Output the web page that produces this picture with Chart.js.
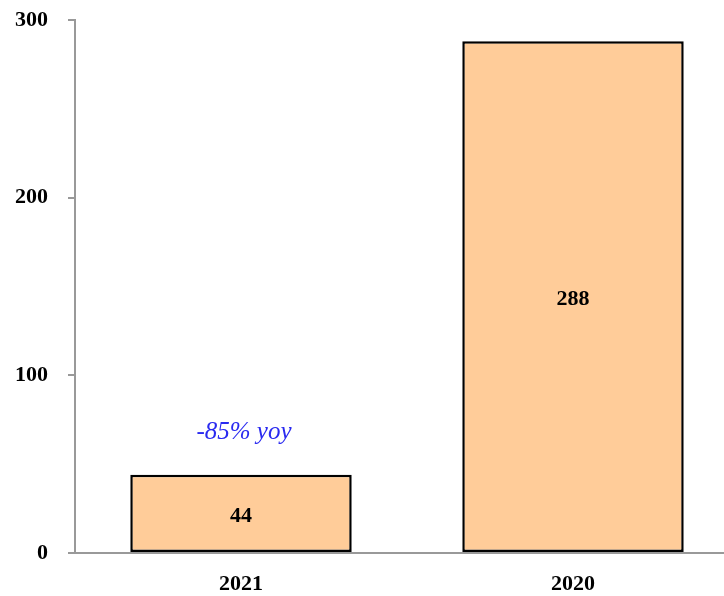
<!DOCTYPE html>
<html>
<head>
<meta charset="utf-8">
<script src="https://cdn.jsdelivr.net/npm/chart.js@4.4.0/dist/chart.umd.min.js"></script>
<style>
  html, body { margin: 0; padding: 0; background: #fff; overflow: hidden; }
  #wrap { width: 739px; height: 596px; }
</style>
</head>
<body>
<div id="wrap"><canvas id="barCanvas" width="739" height="596"></canvas></div>
<script>
const years = ['2021', '2020'];
const values = [44, 288];
const yTicks = [0, 100, 200, 300];
const changeNote = '-85% yoy';

const serif = "'Liberation Serif', 'DejaVu Serif', serif";

// value inside each bar + the yoy note above the first bar
const barLabels = {
  id: 'barLabels',
  afterDatasetsDraw(chart) {
    const ctx = chart.ctx;
    const meta = chart.getDatasetMeta(0);
    ctx.save();
    ctx.font = 'bold 22px ' + serif;
    ctx.fillStyle = '#000';
    ctx.textAlign = 'center';
    ctx.textBaseline = 'middle';
    meta.data.forEach((bar, i) => {
      ctx.fillText(values[i], bar.x, (bar.y + bar.base) / 2 + 3);
    });
    const y = chart.scales.y;
    ctx.font = 'italic 25px ' + serif;
    ctx.fillStyle = '#2a2af0';
    ctx.fillText(changeNote, meta.data[0].x + 3, y.getPixelForValue(68));
    ctx.restore();
  }
};

new Chart(document.getElementById('barCanvas').getContext('2d'), {
  type: 'bar',
  data: {
    labels: years,
    datasets: [{
      data: values,
      backgroundColor: '#ffcc99',
      borderColor: '#000',
      borderWidth: 2.5,
      borderSkipped: false,
      categoryPercentage: 1,
      barPercentage: 0.667
    }]
  },
  options: {
    responsive: false,
    animation: false,
    layout: { padding: { top: 20, right: 0, left: 0, bottom: 0 } },
    scales: {
      x: {
        grid: { display: false, drawTicks: false },
        border: { color: '#999', width: 2 },
        ticks: {
          color: '#000',
          padding: 18,
          font: { family: serif, size: 22, weight: 'bold' }
        },
        afterFit(scale) { scale.height = 43; scale.paddingLeft = 0; scale.paddingRight = 0; }
      },
      y: {
        min: 0,
        max: 300,
        afterBuildTicks(scale) { scale.ticks = yTicks.map(v => ({ value: v })); },
        grid: { drawOnChartArea: false, drawTicks: true, tickLength: 7, color: '#999', lineWidth: 2 },
        border: { color: '#999', width: 2 },
        ticks: {
          color: '#000',
          padding: 20,
          font: { family: serif, size: 22, weight: 'bold' }
        },
        afterFit(scale) { scale.width = 75; scale.paddingTop = 0; scale.paddingBottom = 0; }
      }
    },
    plugins: {
      legend: { display: false },
      tooltip: { enabled: false }
    }
  },
  plugins: [barLabels]
});
</script>
</body>
</html>
